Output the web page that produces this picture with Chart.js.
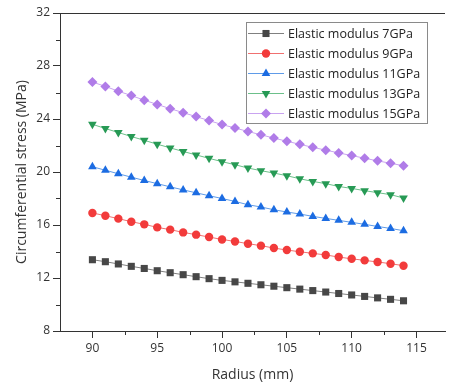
<!DOCTYPE html>
<html><head><meta charset="utf-8">
<script src="https://cdn.jsdelivr.net/npm/chart.js@4/dist/chart.umd.min.js"></script>
<style>html,body{margin:0;padding:0;background:#fff}#wrap{width:450px;height:392px}</style>
</head><body><div id="wrap"><canvas id="c" width="450" height="392"></canvas></div>
<script>
const radius = [90,91,92,93,94,95,96,97,98,99,100,101,102,103,104,105,106,107,108,109,110,111,112,113,114];
const seriesNames = ['Elastic modulus 7GPa','Elastic modulus 9GPa','Elastic modulus 11GPa','Elastic modulus 13GPa','Elastic modulus 15GPa'];
const stress7 = [13.38,13.23,13.06,12.88,12.72,12.55,12.40,12.25,12.10,11.95,11.82,11.71,11.60,11.49,11.38,11.27,11.16,11.05,10.94,10.83,10.72,10.61,10.50,10.39,10.28];
const stress9 = [16.91,16.70,16.48,16.25,16.05,15.82,15.65,15.44,15.27,15.09,14.91,14.76,14.59,14.44,14.26,14.11,13.98,13.86,13.74,13.58,13.45,13.33,13.21,13.08,12.93];
const stress11 = [20.40,20.13,19.87,19.61,19.36,19.12,18.88,18.65,18.43,18.21,18.00,17.78,17.53,17.36,17.15,16.98,16.83,16.65,16.50,16.35,16.20,16.05,15.89,15.74,15.57];
const stress13 = [23.60,23.28,22.98,22.68,22.39,22.10,21.82,21.55,21.29,21.03,20.78,20.55,20.30,20.10,19.92,19.72,19.49,19.29,19.12,18.91,18.76,18.59,18.44,18.29,18.04];
const stress15 = [26.79,26.46,26.10,25.77,25.42,25.10,24.78,24.48,24.18,23.88,23.58,23.32,23.06,22.81,22.56,22.32,22.09,21.86,21.65,21.44,21.24,21.04,20.84,20.66,20.47];
const xTicks = [90,95,100,105,110,115];
const yTicks = [8,12,16,20,24,28,32];

const FONT = "'Open Sans', 'Noto Sans', sans-serif";
const styles = [
  {pt:'rect', rot:0, r:5, fill:'#474747', line:'#808080'},
  {pt:'circle', rot:0, r:4.2, fill:'#f23b3b', line:'#f07070'},
  {pt:'triangle', rot:0, r:5, fill:'#1c6ce2', line:'#5f9be8'},
  {pt:'triangle', rot:180, r:5, fill:'#279a55', line:'#6cc08a'},
  {pt:'rectRot', rot:0, r:5, fill:'#b07ce8', line:'#c9a3f0'}
];
const allSeries = [stress7, stress9, stress11, stress13, stress15];
const datasets = allSeries.map((s,i)=>({
  label: seriesNames[i],
  data: radius.map((x,j)=>({x:x, y:s[j]})),
  borderColor: styles[i].line,
  borderWidth: 1,
  backgroundColor: styles[i].fill,
  pointBackgroundColor: styles[i].fill,
  pointBorderColor: styles[i].fill,
  pointBorderWidth: 0,
  pointStyle: styles[i].pt,
  pointRotation: styles[i].rot,
  pointRadius: styles[i].r,
  tension: 0
}));

const extras = {
  id: 'extras',
  afterDraw(chart) {
    const ctx = chart.ctx, a = chart.chartArea;
    const xs = chart.scales.x, ys = chart.scales.y;
    ctx.save();
    ctx.strokeStyle = '#333'; ctx.lineWidth = 1;
    ctx.beginPath(); ctx.moveTo(a.left, a.top + 0.5); ctx.lineTo(a.right, a.top + 0.5); ctx.stroke();
    ctx.beginPath();
    for (let i = 0; i < xTicks.length; i++) {
      const v = xTicks[i] + 2.5;
      if (v > xs.max) continue;
      const px = Math.round(xs.getPixelForValue(v)) + 0.5;
      ctx.moveTo(px, a.bottom); ctx.lineTo(px, a.bottom + 4);
    }
    for (let i = 0; i < yTicks.length - 1; i++) {
      const v = yTicks[i] + 2;
      const py = Math.round(ys.getPixelForValue(v)) + 0.5;
      ctx.moveTo(a.left, py); ctx.lineTo(a.left - 4, py);
    }
    ctx.stroke();
    // legend
    const bx = a.left + 186, by = a.top + 9, bw = 181, bh = 101;
    ctx.fillStyle = '#fff';
    ctx.fillRect(bx, by, bw, bh);
    ctx.strokeStyle = '#8a8a8a';
    ctx.strokeRect(bx + 0.5, by + 0.5, bw, bh);
    ctx.font = '12.5px ' + FONT;
    ctx.textBaseline = 'middle';
    ctx.textAlign = 'left';
    chart.data.datasets.forEach((ds, i) => {
      const cy = by + 11 + i * 20;
      ctx.strokeStyle = ds.borderColor; ctx.lineWidth = 1;
      ctx.beginPath(); ctx.moveTo(bx + 2, cy + 0.5); ctx.lineTo(bx + 38, cy + 0.5); ctx.stroke();
      ctx.fillStyle = ds.pointBackgroundColor; ctx.strokeStyle = ds.pointBorderColor;
      Chart.helpers.drawPoint(ctx, {pointStyle: ds.pointStyle, rotation: ds.pointRotation, radius: ds.pointRadius, borderWidth: 0}, bx + 20, cy + 0.5);
      ctx.fillStyle = '#222';
      ctx.fillText(ds.label, bx + 42, cy + 1);
    });
    ctx.restore();
  }
};

new Chart(document.getElementById('c'), {
  type: 'line',
  data: { datasets },
  plugins: [extras],
  options: {
    responsive: false,
    devicePixelRatio: 1,
    animation: false,
    layout: { padding: { top: 13, right: 0, left: 0, bottom: 0 } },
    plugins: { legend: { display: false }, tooltip: { enabled: false } },
    scales: {
      x: {
        type: 'linear', min: 87.5, max: 117.2,
        afterBuildTicks: s => { s.ticks = xTicks.map(v => ({value: v})); },
        afterFit: s => { s.height = 61; },
        grid: { drawOnChartArea: false, drawTicks: true, tickLength: 7, tickColor: '#333' },
        border: { display: true, color: '#333', width: 1 },
        ticks: { color: '#333', font: { family: FONT, size: 12 }, padding: 3, maxRotation: 0 },
        title: { display: true, text: 'Radius (mm)', color: '#333', font: { family: FONT, size: 14 }, padding: { top: 0, bottom: 9 } }
      },
      y: {
        type: 'linear', min: 8, max: 32,
        afterBuildTicks: s => { s.ticks = yTicks.map(v => ({value: v})); },
        afterFit: s => { s.width = 60; },
        grid: { drawOnChartArea: false, drawTicks: true, tickLength: 7, tickColor: '#333' },
        border: { display: true, color: '#333', width: 1 },
        ticks: { color: '#333', font: { family: FONT, size: 12 }, padding: 3 },
        title: { display: true, text: 'Circumferential stress (MPa)', color: '#333', font: { family: FONT, size: 14 }, padding: { top: 14, bottom: 0 } }
      }
    }
  }
});
</script></body></html>
